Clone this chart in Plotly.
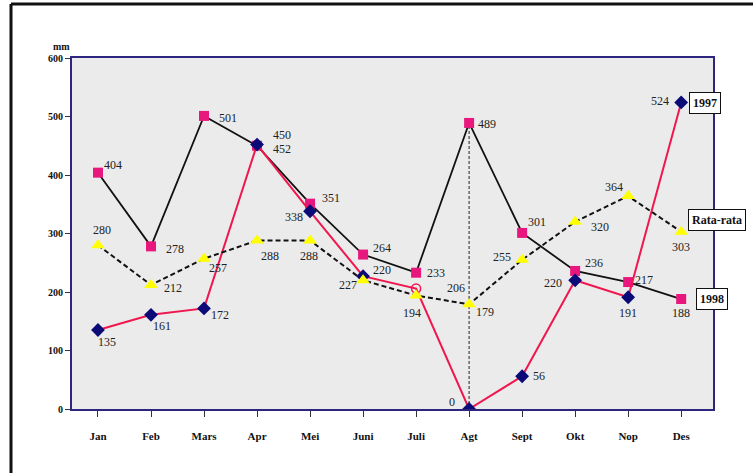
import plotly.graph_objects as go

months = ["Jan", "Feb", "Mars", "Apr", "Mei", "Juni", "Juli", "Agt", "Sept", "Okt", "Nop", "Des"]
y1998 = [404, 278, 501, 450, 351, 264, 233, 489, 301, 236, 217, 188]
y1997 = [135, 161, 172, 452, 338, 227, 206, 0, 56, 220, 191, 524]
rata = [280, 212, 257, 288, 288, 220, 194, 179, 255, 320, 364, 303]

# label offsets (pixels: dx right, dy down)
off1998 = [(15, -8), (24, 3), (24, 2), (25, -11), (21, -6), (19, -7), (20, 0), (18, 1), (15, -11), (19, -8), (16, -2), (0, 14)]
off1997 = [(9, 12), (11, 11), (16, 7), (25, 4), (-16, 6), (-15, 9), (40, 0), (-17, -7), (17, 0), (-22, 3), (0, 16), (-21, -1)]
offrata = [(4, -15), (22, 3), (14, 9), (13, 15), (-1, 15), (19, -10), (-4, 17), (16, 8), (-20, -3), (25, 5), (-14, -9), (0, 15)]

x = list(range(len(months)))
PINK = "#E8177E"
RED = "#F0164E"
NAVY = "#0B0B78"
YEL = "#FFFF00"
SERIF = "Liberation Serif"

L, R, T, B = 72, 713, 58, 409
def px2x(p):
    return (p - L) / (R - L)
def py2y(p):
    return (B - p) / (B - T)

fig = go.Figure()

# vertical dashed line at Agt
agt = months.index("Agt")
fig.add_trace(go.Scatter(x=[agt, agt], y=[0, y1998[agt]], mode="lines",
                         line=dict(color="#444444", width=1.2, dash="3px,2px"),
                         hoverinfo="skip", showlegend=False))

fig.add_trace(go.Scatter(x=x, y=y1998, mode="lines+markers",
                         line=dict(color="#111111", width=1.8),
                         marker=dict(symbol="square", size=10, color=PINK),
                         showlegend=False))

sym97 = ["diamond"] * 12
col97 = [NAVY] * 12
sym97[6] = "circle-open"
col97[6] = RED
fig.add_trace(go.Scatter(x=x, y=y1997, mode="lines+markers",
                         line=dict(color=RED, width=2),
                         marker=dict(symbol=sym97, size=9, color=col97, line=dict(width=1.5, color=col97)),
                         showlegend=False))

fig.add_trace(go.Scatter(x=x, y=rata, mode="lines+markers",
                         line=dict(color="#111111", width=2, dash="5px,3px"),
                         marker=dict(symbol="triangle-up", size=12, color=YEL),
                         showlegend=False))

ann = []
for vals, offs in ((y1998, off1998), (y1997, off1997), (rata, offrata)):
    for i, (v, (dx, dy)) in enumerate(zip(vals, offs)):
        ann.append(dict(x=i, y=v, text=str(v), showarrow=False, xshift=dx, yshift=-dy,
                        font=dict(family=SERIF, size=12, color="#222222")))

# boxed series labels
for txt, px, py in (("1997", 705, 103), ("Rata-rata", 717, 220), ("1998", 712, 299)):
    ann.append(dict(x=px2x(px), y=py2y(py), xref="paper", yref="paper", text="<b>" + txt + "</b>",
                    xanchor="center", yanchor="middle",
                    showarrow=False, bgcolor="white", bordercolor="#111111", borderwidth=1, borderpad=3,
                    font=dict(family=SERIF, size=12, color="#111111")))

ann.append(dict(x=0, y=600, xref="paper", yref="y", text="<b>mm</b>", showarrow=False,
                xanchor="right", yanchor="bottom", xshift=0, yshift=4,
                font=dict(family=SERIF, size=10, color="#111111")))

# outer frame (top and left)
shapes = [
    dict(type="line", xref="paper", yref="paper", x0=px2x(11), x1=px2x(760), y0=py2y(4), y1=py2y(4),
         line=dict(color="#111111", width=3)),
    dict(type="line", xref="paper", yref="paper", x0=px2x(11), x1=px2x(11), y0=py2y(4), y1=py2y(480),
         line=dict(color="#111111", width=3)),
]

fig.update_layout(
    width=753, height=473,
    margin=dict(l=L, r=753 - R, t=T, b=473 - B),
    paper_bgcolor="white", plot_bgcolor="#EBEBEB",
    annotations=ann, shapes=shapes,
    font=dict(family=SERIF),
)
fig.update_xaxes(range=[-0.49, 11.6], tickmode="array", tickvals=x, ticktext=["<b>%s</b>" % m for m in months],
                 showgrid=False, zeroline=False, showline=True, linecolor="#2E2580", linewidth=2, mirror=True,
                 ticks="outside", ticklen=6, tickcolor="#333333", ticklabelstandoff=10,
                 tickfont=dict(family=SERIF, size=11, color="#111111"))
fig.update_yaxes(range=[0, 600], dtick=100, tickformat="d",
                 showgrid=False, zeroline=False, showline=True, linecolor="#2E2580", linewidth=2, mirror=True,
                 ticks="outside", ticklen=5, tickcolor="#333333",
                 tickfont=dict(family=SERIF, size=10, color="#111111"),
                 tickprefix="<b>", ticksuffix="</b>")

fig.write_html("out.html")
